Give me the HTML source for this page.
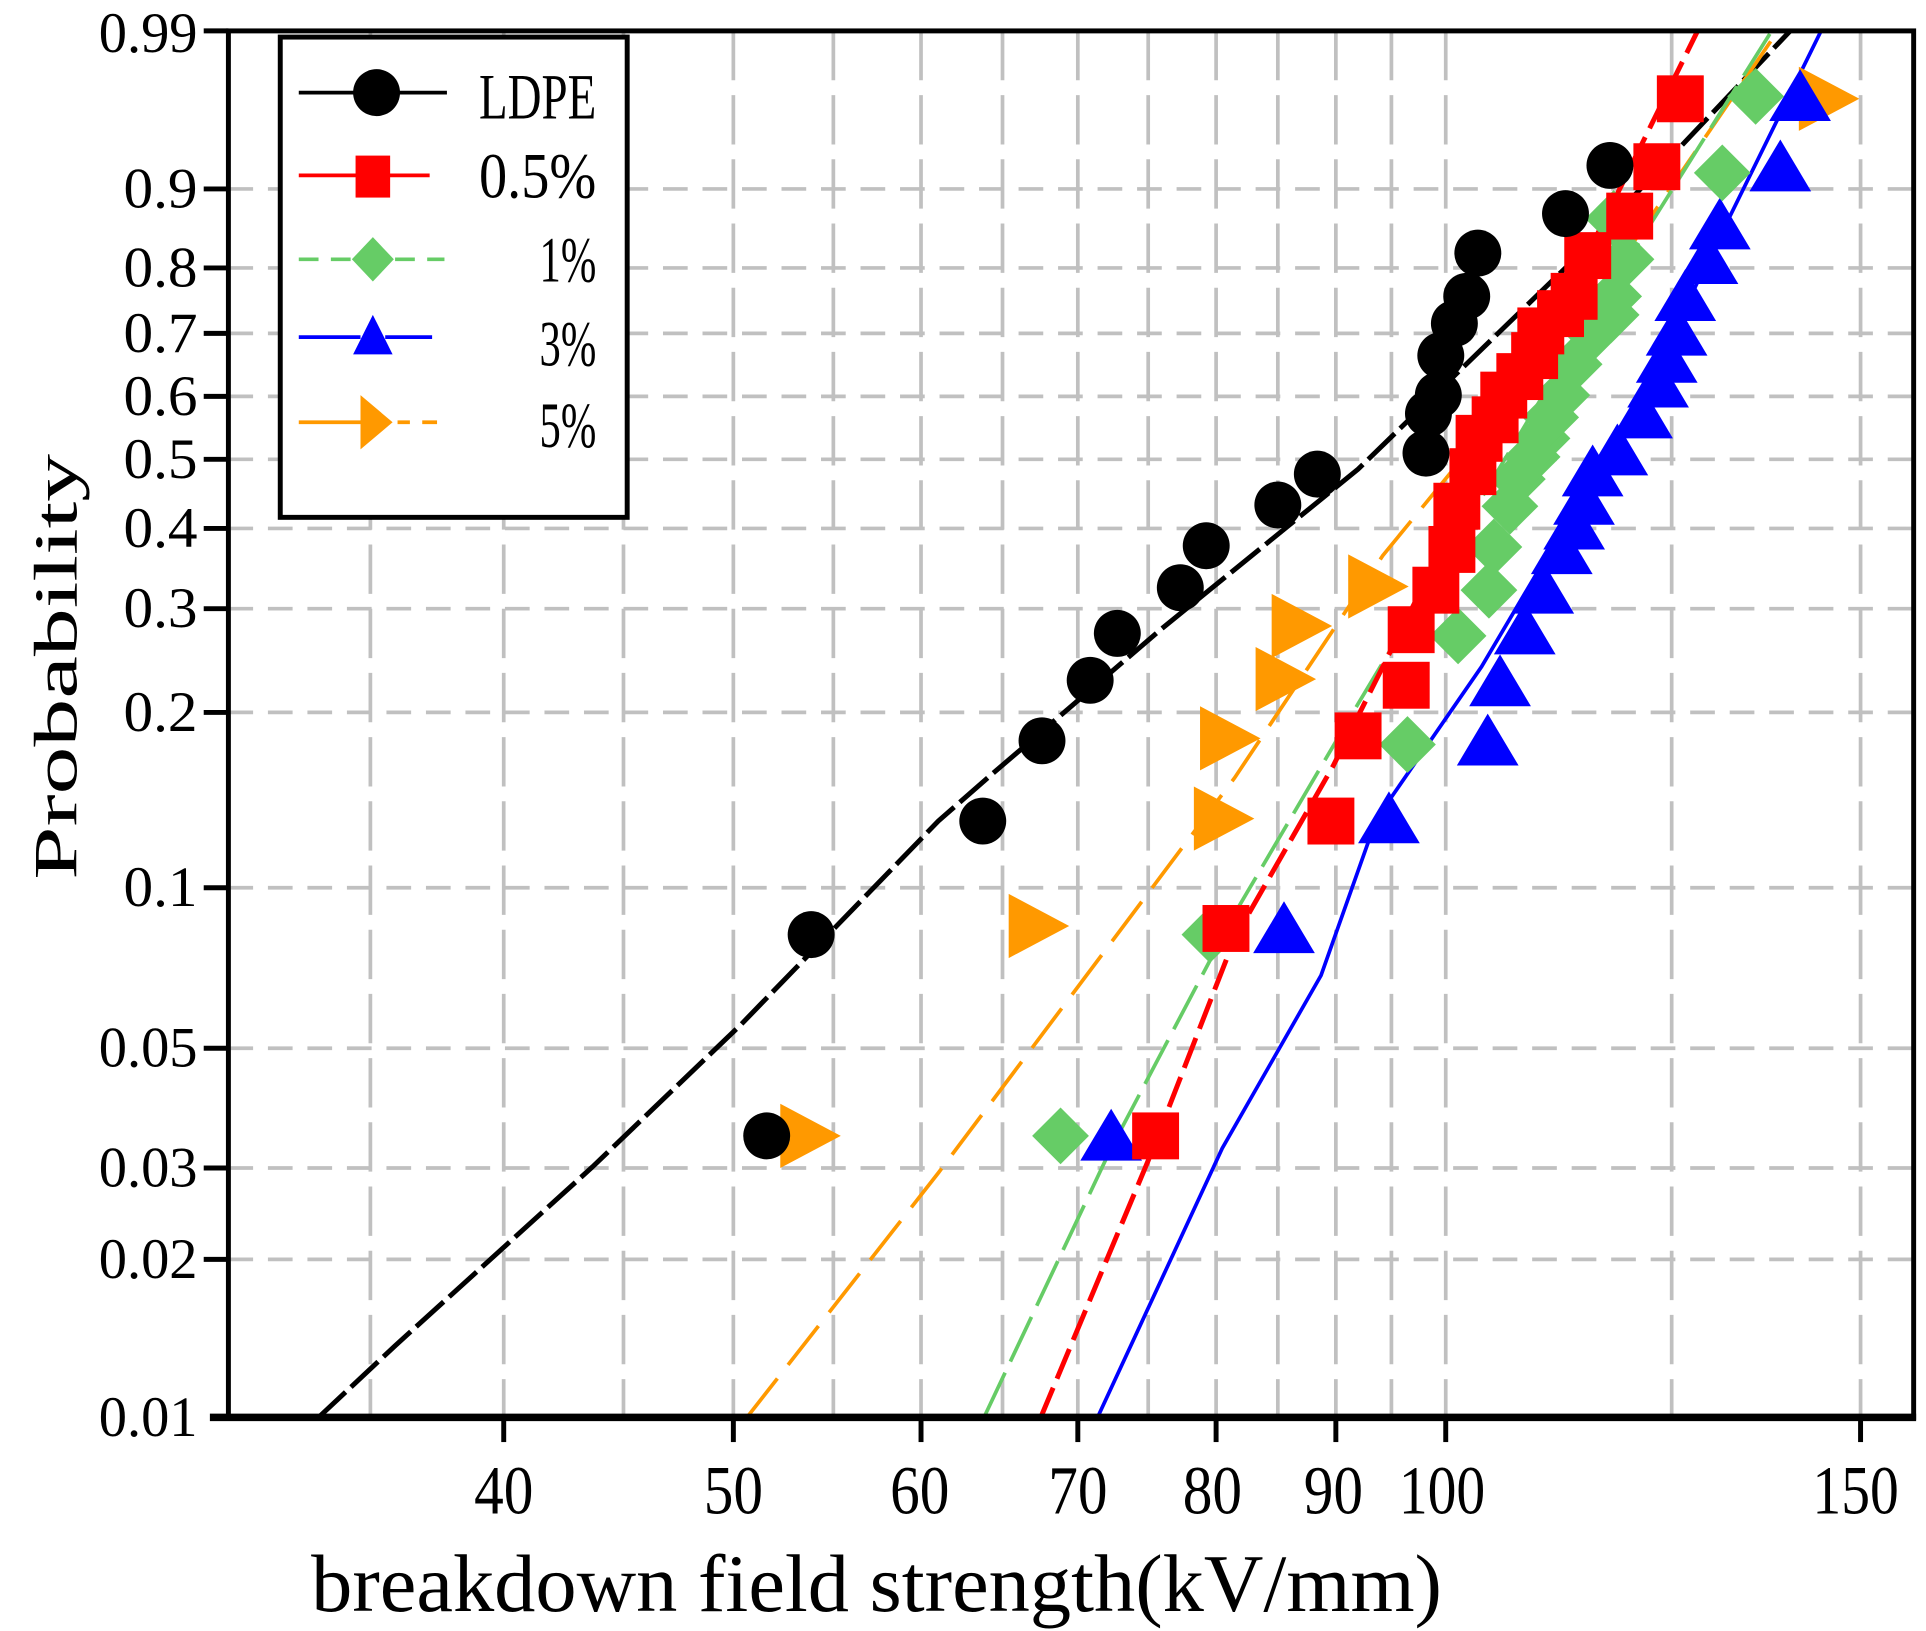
<!DOCTYPE html>
<html><head><meta charset="utf-8"><style>html,body{margin:0;padding:0;background:#fff}svg{display:block}</style></head>
<body>
<svg width="1926" height="1631" viewBox="0 0 1560 1321" xmlns="http://www.w3.org/2000/svg" font-family="'Liberation Serif','Noto Serif CJK SC',serif">
<defs>
<circle id="c" r="19" fill="#000"/>
<rect id="s" x="-19" y="-19" width="38" height="38" fill="#f00"/>
<polygon id="d" points="0,-23 23,0 0,23 -23,0" fill="#66cc66"/>
<polygon id="t" points="0,-22 25,20 -25,20" fill="#0000ff"/>
<polygon id="r" points="-23,-26 26,0 -23,26" fill="#ff9900"/>
</defs>
<rect width="1560" height="1321" fill="#fff"/>
<g stroke="#c0c0c0" stroke-width="3" stroke-dasharray="20,12">
<line x1="185" x2="1550" y1="153" y2="153"/><line x1="185" x2="1550" y1="217" y2="217"/>
<line x1="185" x2="1550" y1="270" y2="270"/><line x1="185" x2="1550" y1="321" y2="321"/>
<line x1="185" x2="1550" y1="372" y2="372"/><line x1="185" x2="1550" y1="428" y2="428"/>
<line x1="185" x2="1550" y1="493" y2="493"/><line x1="185" x2="1550" y1="577" y2="577"/>
<line x1="185" x2="1550" y1="719" y2="719"/><line x1="185" x2="1550" y1="849" y2="849"/>
<line x1="185" x2="1550" y1="946" y2="946"/><line x1="185" x2="1550" y1="1020" y2="1020"/>
</g>
<g stroke="#c0c0c0" stroke-width="3" stroke-dasharray="40,12">
<line x1="300" x2="300" y1="25" y2="1148"/><line x1="408" x2="408" y1="25" y2="1148"/>
<line x1="505" x2="505" y1="25" y2="1148"/><line x1="594" x2="594" y1="25" y2="1148"/>
<line x1="675" x2="675" y1="25" y2="1148"/><line x1="746" x2="746" y1="25" y2="1148"/>
<line x1="812" x2="812" y1="25" y2="1148"/><line x1="873" x2="873" y1="25" y2="1148"/>
<line x1="930" x2="930" y1="25" y2="1148"/><line x1="985" x2="985" y1="25" y2="1148"/>
<line x1="1035" x2="1035" y1="25" y2="1148"/><line x1="1082" x2="1082" y1="25" y2="1148"/>
<line x1="1127" x2="1127" y1="25" y2="1148"/><line x1="1171" x2="1171" y1="25" y2="1148"/>
<line x1="1354" x2="1354" y1="25" y2="1148"/><line x1="1507" x2="1507" y1="25" y2="1148"/>
</g>
<g fill="none" stroke-width="4">
<polyline points="258,1148 320,1090 480,945 600,830 760,665 800,630 940,510 1100,380 1270,215 1450,25" stroke="#000" stroke-dasharray="30,6"/>
<polyline points="605,1148 760,950 880,790 1000,630 1120,450 1300,230 1440,25" stroke="#ff9900" stroke-width="3" stroke-dasharray="40,14"/>
<polyline points="797,1148 900,930 1000,740 1100,570 1250,320 1435,25" stroke="#66cc66" stroke-width="3" stroke-dasharray="40,10"/>
<polyline points="843,1148 930,940 1000,760 1080,620 1200,380 1375,25" stroke="#f00" stroke-dasharray="26,8"/>
<polyline points="889,1148 990,930 1070,790 1115,663 1200,540 1330,320 1475,25" stroke="#0000ff" stroke-width="3"/>
</g>
<g>
<use href="#r" x="655" y="920"/><use href="#r" x="840" y="750"/><use href="#r" x="990" y="663"/><use href="#r" x="995" y="598"/><use href="#r" x="1040" y="550"/><use href="#r" x="1053" y="507"/><use href="#r" x="1115" y="475"/><use href="#r" x="1480" y="80"/>
<use href="#t" x="1125" y="663"/><use href="#t" x="1205" y="600"/><use href="#t" x="1040" y="752"/><use href="#t" x="900" y="920"/><use href="#t" x="1215" y="552"/><use href="#t" x="1235" y="510"/><use href="#t" x="1250" y="477"/><use href="#t" x="1265" y="445"/><use href="#t" x="1275" y="425"/><use href="#t" x="1283" y="405"/><use href="#t" x="1290" y="382"/><use href="#t" x="1310" y="365"/><use href="#t" x="1330" y="335"/><use href="#t" x="1343" y="310"/><use href="#t" x="1350" y="290"/><use href="#t" x="1358" y="268"/><use href="#t" x="1365" y="240"/><use href="#t" x="1383" y="210"/><use href="#t" x="1393" y="182"/><use href="#t" x="1442" y="135"/><use href="#t" x="1458" y="78"/>
<use href="#d" x="859" y="920"/><use href="#d" x="980" y="757"/><use href="#d" x="1140" y="603"/><use href="#d" x="1181" y="515"/><use href="#d" x="1206" y="478"/><use href="#d" x="1210" y="443"/><use href="#d" x="1223" y="410"/><use href="#d" x="1229" y="388"/><use href="#d" x="1241" y="370"/><use href="#d" x="1249" y="355"/><use href="#d" x="1256" y="338"/><use href="#d" x="1265" y="320"/><use href="#d" x="1275" y="295"/><use href="#d" x="1290" y="270"/><use href="#d" x="1305" y="255"/><use href="#d" x="1307" y="240"/><use href="#d" x="1317" y="210"/><use href="#d" x="1307" y="177"/><use href="#d" x="1395" y="140"/><use href="#d" x="1422" y="78"/>
<use href="#s" x="936" y="920"/><use href="#s" x="993" y="752"/><use href="#s" x="1078" y="665"/><use href="#s" x="1100" y="596"/><use href="#s" x="1139" y="555"/><use href="#s" x="1143" y="510"/><use href="#s" x="1163" y="478"/><use href="#s" x="1176" y="445"/><use href="#s" x="1180" y="410"/><use href="#s" x="1193" y="382"/><use href="#s" x="1198" y="355"/><use href="#s" x="1211" y="340"/><use href="#s" x="1218" y="320"/><use href="#s" x="1231" y="305"/><use href="#s" x="1243" y="288"/><use href="#s" x="1248" y="268"/><use href="#s" x="1264" y="254"/><use href="#s" x="1275" y="240"/><use href="#s" x="1286" y="207"/><use href="#s" x="1320" y="175"/><use href="#s" x="1342" y="135"/><use href="#s" x="1361" y="80"/>
<use href="#c" x="621" y="920"/><use href="#c" x="657" y="757"/><use href="#c" x="796" y="665"/><use href="#c" x="844" y="600"/><use href="#c" x="883" y="551"/><use href="#c" x="905" y="513"/><use href="#c" x="956" y="476"/><use href="#c" x="977" y="442"/><use href="#c" x="1035" y="409"/><use href="#c" x="1067" y="384"/><use href="#c" x="1155" y="367"/><use href="#c" x="1157" y="335"/><use href="#c" x="1165" y="320"/><use href="#c" x="1167" y="288"/><use href="#c" x="1178" y="262"/><use href="#c" x="1188" y="240"/><use href="#c" x="1197" y="205"/><use href="#c" x="1268" y="173"/><use href="#c" x="1304" y="134"/>
</g>
<rect x="185" y="25" width="1365" height="1123" fill="none" stroke="#000" stroke-width="4"/>
<line x1="170" x2="1552" y1="1148" y2="1148" stroke="#000" stroke-width="6"/>
<g stroke="#000" stroke-width="4">
<line x1="165" x2="185" y1="25" y2="25"/><line x1="165" x2="185" y1="153" y2="153"/><line x1="165" x2="185" y1="217" y2="217"/><line x1="165" x2="185" y1="270" y2="270"/><line x1="165" x2="185" y1="321" y2="321"/><line x1="165" x2="185" y1="372" y2="372"/><line x1="165" x2="185" y1="428" y2="428"/><line x1="165" x2="185" y1="493" y2="493"/><line x1="165" x2="185" y1="577" y2="577"/><line x1="165" x2="185" y1="719" y2="719"/><line x1="165" x2="185" y1="849" y2="849"/><line x1="165" x2="185" y1="946" y2="946"/><line x1="165" x2="185" y1="1020" y2="1020"/>
<line x1="408" x2="408" y1="1148" y2="1168"/><line x1="594" x2="594" y1="1148" y2="1168"/><line x1="746" x2="746" y1="1148" y2="1168"/><line x1="873" x2="873" y1="1148" y2="1168"/><line x1="985" x2="985" y1="1148" y2="1168"/><line x1="1082" x2="1082" y1="1148" y2="1168"/><line x1="1171" x2="1171" y1="1148" y2="1168"/><line x1="1507" x2="1507" y1="1148" y2="1168"/>
</g>
<g font-size="46" fill="#000" lengthAdjust="spacingAndGlyphs">
<text x="80" y="42" textLength="80" lengthAdjust="spacingAndGlyphs">0.99</text>
<text x="100" y="168" textLength="60" lengthAdjust="spacingAndGlyphs">0.9</text>
<text x="100" y="232" textLength="60" lengthAdjust="spacingAndGlyphs">0.8</text>
<text x="100" y="285" textLength="60" lengthAdjust="spacingAndGlyphs">0.7</text>
<text x="100" y="336" textLength="60" lengthAdjust="spacingAndGlyphs">0.6</text>
<text x="100" y="387" textLength="60" lengthAdjust="spacingAndGlyphs">0.5</text>
<text x="100" y="443" textLength="60" lengthAdjust="spacingAndGlyphs">0.4</text>
<text x="100" y="508" textLength="60" lengthAdjust="spacingAndGlyphs">0.3</text>
<text x="100" y="592" textLength="60" lengthAdjust="spacingAndGlyphs">0.2</text>
<text x="100" y="734" textLength="60" lengthAdjust="spacingAndGlyphs">0.1</text>
<text x="80" y="864" textLength="80" lengthAdjust="spacingAndGlyphs">0.05</text>
<text x="80" y="961" textLength="80" lengthAdjust="spacingAndGlyphs">0.03</text>
<text x="80" y="1035" textLength="80" lengthAdjust="spacingAndGlyphs">0.02</text>
<text x="80" y="1163" textLength="80" lengthAdjust="spacingAndGlyphs">0.01</text>
</g>
<g font-size="56" fill="#000">
<text x="384" y="1226" textLength="48" lengthAdjust="spacingAndGlyphs">40</text>
<text x="570" y="1226" textLength="48" lengthAdjust="spacingAndGlyphs">50</text>
<text x="721" y="1226" textLength="48" lengthAdjust="spacingAndGlyphs">60</text>
<text x="849" y="1226" textLength="48" lengthAdjust="spacingAndGlyphs">70</text>
<text x="958" y="1226" textLength="48" lengthAdjust="spacingAndGlyphs">80</text>
<text x="1056" y="1226" textLength="48" lengthAdjust="spacingAndGlyphs">90</text>
<text x="1133" y="1226" textLength="70" lengthAdjust="spacingAndGlyphs">100</text>
<text x="1468" y="1226" textLength="70" lengthAdjust="spacingAndGlyphs">150</text>
</g>
<text x="252" y="1305" font-size="66" textLength="916" lengthAdjust="spacingAndGlyphs">breakdown field strength(kV/mm)</text>
<text transform="translate(62,540) rotate(-90)" font-size="50" text-anchor="middle" textLength="345" lengthAdjust="spacingAndGlyphs">Probability</text>
<rect x="227" y="30" width="281" height="389" fill="#fff" stroke="#000" stroke-width="4"/>
<line x1="242" x2="362" y1="75" y2="75" stroke="#000" stroke-width="3"/><use href="#c" x="305" y="75"/>
<line x1="242" x2="348" y1="142" y2="142" stroke="#f00" stroke-width="3"/><rect x="288" y="126" width="28" height="34" fill="#f00"/>
<line x1="242" x2="360" y1="210" y2="210" stroke="#66cc66" stroke-width="3" stroke-dasharray="16,10"/><polygon points="302,192 319,210 302,228 285,210" fill="#66cc66"/>
<line x1="242" x2="350" y1="273" y2="273" stroke="#0000ff" stroke-width="3" stroke-dasharray="50,20"/><polygon points="302,255 318,287 286,287" fill="#0000ff"/>
<line x1="242" x2="354" y1="342" y2="342" stroke="#ff9900" stroke-width="3" stroke-dasharray="70,10,10,10"/><polygon points="292,320 318,342 292,364" fill="#ff9900"/>
<g font-size="52" fill="#000">
<text x="388" y="96" textLength="95" lengthAdjust="spacingAndGlyphs">LDPE</text>
<text x="388" y="160" textLength="95" lengthAdjust="spacingAndGlyphs">0.5%</text>
<text x="437" y="228" textLength="46" lengthAdjust="spacingAndGlyphs">1%</text>
<text x="437" y="296" textLength="46" lengthAdjust="spacingAndGlyphs">3%</text>
<text x="437" y="362" textLength="46" lengthAdjust="spacingAndGlyphs">5%</text>
</g>
</svg>
</body></html>
